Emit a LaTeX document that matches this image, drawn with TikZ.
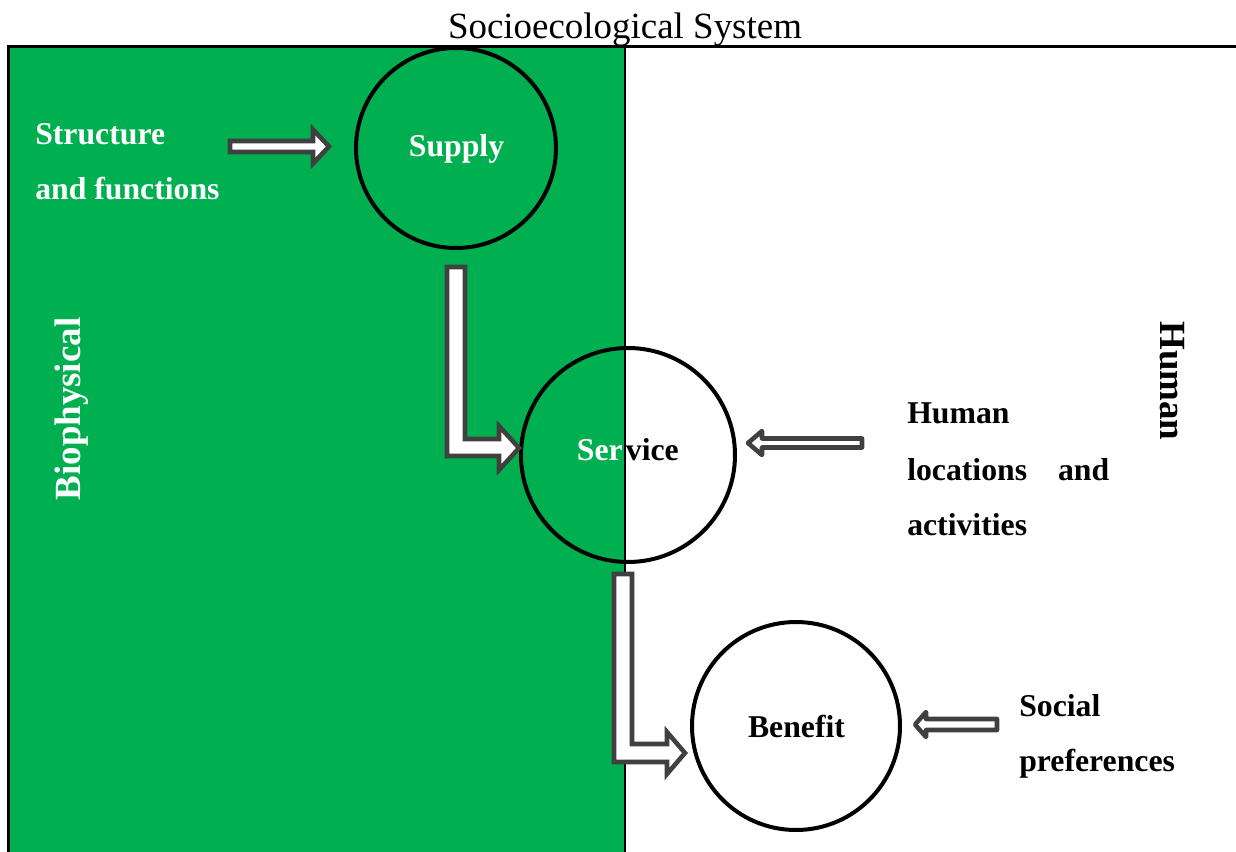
\documentclass[tikz,border=0pt]{standalone}
\usepackage{fontspec}
\setmainfont{Liberation Serif}
\definecolor{leafgreen}{HTML}{00B050}
\definecolor{arrowgray}{HTML}{404040}
\begin{document}
\begin{tikzpicture}[x=0.75pt,y=-0.75pt,
  textlabel/.style={font=\fontsize{23.8}{28}\selectfont\bfseries, inner sep=0pt, anchor=base west},
  circletext/.style={font=\fontsize{23.8}{28}\selectfont\bfseries, inner sep=0pt, anchor=base},
  sidelabel/.style={font=\fontsize{27.7}{33}\selectfont\bfseries, inner sep=0pt},
  stage/.style={circle, draw=black, line width=3pt, inner sep=0pt},
  blockarrow/.style={draw=arrowgray, fill=white, line width=3.4pt, miter limit=10},
  roundarrow/.style={blockarrow, line join=round}]
\useasboundingbox (0,0) rectangle (1236,852);

% biophysical half and frame
\fill[leafgreen] (8,47) rectangle (625,852);
\draw[line width=2.25pt] (1236,47) -- (8,47) -- (8,852);
\draw[line width=1.5pt] (625,47) -- (625,852);

\node[font=\fontsize{27.7}{33}\selectfont, inner sep=0pt, anchor=base] (title) at (625,38.5) {Socioecological System};

% stages of the cascade
\node[stage, minimum size=150pt] (supply) at (456,148) {};
\node[stage, minimum size=160.5pt] (service) at (628,455) {};
\node[stage, fill=white, minimum size=156pt] (benefit) at (796,726) {};

\node[circletext, text=white] (supplytext) at (456.5,157) {Supply};
\node[circletext, text=black] (benefittext) at (796.5,737) {Benefit};
% "Ser" sits on the green half, "vice" on the white half
\node[circletext, text=white, anchor=base east] (serviceleft) at (623,460) {Ser};
\node[circletext, text=black, anchor=base west] (serviceright) at (serviceleft.base east) {\hspace{2pt}vice};

% block arrows
\draw[blockarrow] (230,141) -- (313,141) -- (313,129.5) -- (329,146.5) -- (313,163.5) -- (313,152) -- (230,152) -- cycle;
\draw[blockarrow] (447,267) -- (465,267) -- (465,439) -- (499,439) -- (499,426) -- (519,448) -- (499,470) -- (499,456) -- (447,456) -- cycle;
\draw[blockarrow] (614,574) -- (632,574) -- (632,744) -- (667,744) -- (667,732) -- (685,753) -- (667,774) -- (667,762) -- (614,762) -- cycle;
\draw[roundarrow] (862,438.5) -- (762,438.5) -- (762,431) -- (748,443) -- (762,455) -- (762,447.5) -- (862,447.5) -- cycle;
\draw[roundarrow] (997,719) -- (926,719) -- (926,712) -- (915,724.5) -- (926,737) -- (926,730) -- (997,730) -- cycle;

% side texts
\node[textlabel, text=white] (sf1) at (35,145) {Structure};
\node[textlabel, text=white] (sf2) at (35,200) {and functions};

\node[textlabel] (hl1) at (907,424) {Human};
\node[textlabel] (hl2) at (907,480) {\makebox[151.5pt][s]{locations\hfill and}};
\node[textlabel] (hl3) at (907,535) {activities};

\node[textlabel] (sp1) at (1019,716) {Social};
\node[textlabel] (sp2) at (1019,771) {preferences};

\node[sidelabel, text=white, rotate=90] (bio) at (72,409) {Biophysical};
\node[sidelabel, text=black, rotate=-90] (human) at (1172,381) {Human};
\end{tikzpicture}
\end{document}
